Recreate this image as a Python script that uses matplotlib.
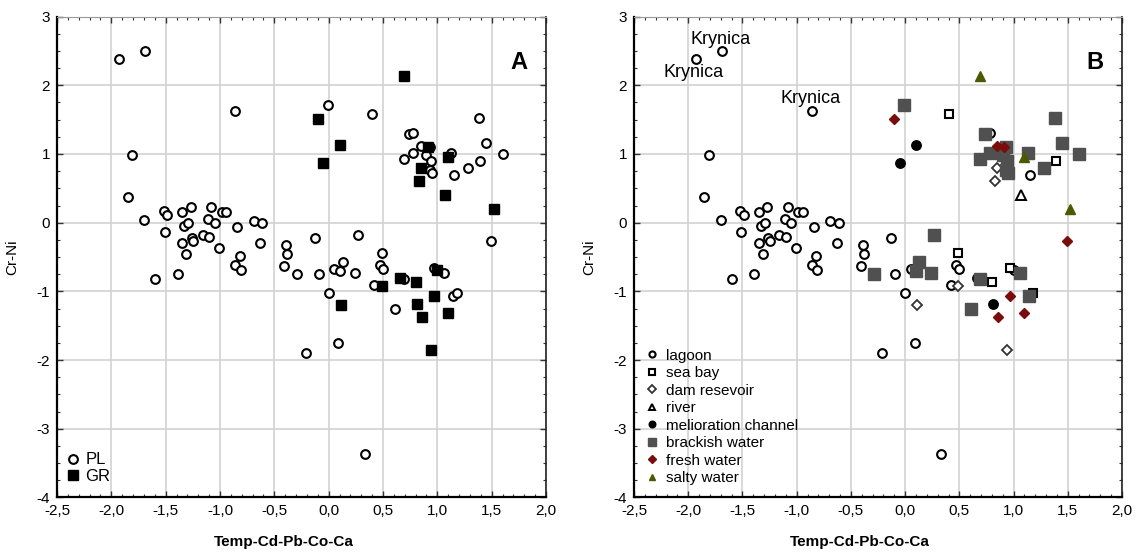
import matplotlib
matplotlib.use("Agg")
import matplotlib.pyplot as plt
from matplotlib.ticker import MultipleLocator, FuncFormatter
from matplotlib.lines import Line2D

plt.rcParams['font.family'] = ['Liberation Sans', 'DejaVu Sans']

# ---- data: each sample point, its origin (PL/GR) and water type ----
pt_x = [-1.93, -1.69, -0.86, -0.01, -1.81, -1.85, -1.70, -1.52, -1.49, -1.51,
        -1.35, -1.27, -1.33, -1.29, -1.35, -1.26, -1.25, -1.31, -1.08, -1.11,
        -1.05, -1.16, -1.10, -1.01, -0.985, -0.945, -0.84, -0.82, -0.86, -0.81,
        -0.69, -0.61, -0.63, -0.39, -0.38, -0.41, -0.13, -1.60, -1.39, -0.29,
        -0.09, 0.00, -0.21, 0.40, 0.74, 0.78, 0.85, 0.78, 0.90, 0.69,
        0.94, 0.93, 0.95, 1.13, 1.15, 1.28, 1.39, 1.38, 1.45, 1.60,
        0.27, 1.49, 0.49, 0.13, 0.47, 0.50, 0.05, 0.10, 0.24, 0.42,
        0.97, 1.06, 0.61, 1.14, 1.18, 0.09, 0.33, 0.93, 0.69,
        -0.10, -0.05, 0.10, 0.69, 0.91, 0.85, 0.83, 1.10, 1.07, 1.52,
        0.49, 0.66, 0.80, 1.00, 0.11, 0.97, 0.81, 0.86, 1.10, 0.94]
pt_y = [2.38, 2.50, 1.62, 1.71, 0.99, 0.38, 0.04, 0.17, 0.11, -0.13,
        0.16, 0.23, -0.05, -0.01, -0.29, -0.23, -0.27, -0.46, 0.23, 0.06,
        -0.01, -0.18, -0.21, -0.37, 0.16, 0.16, -0.06, -0.48, -0.61, -0.69,
        0.02, -0.01, -0.29, -0.32, -0.45, -0.63, -0.23, -0.82, -0.75, -0.75,
        -0.75, -1.03, -1.89, 1.58, 1.29, 1.31, 1.12, 1.02, 0.99, 0.93,
        0.90, 0.76, 0.72, 1.01, 0.70, 0.80, 0.90, 1.52, 1.16, 1.00,
        -0.18, -0.26, -0.44, -0.57, -0.62, -0.68, -0.68, -0.70, -0.73, -0.90,
        -0.66, -0.73, -1.25, -1.07, -1.03, -1.75, -3.37, 1.10, -0.82,
        1.51, 0.87, 1.13, 2.14, 1.10, 0.79, 0.60, 0.96, 0.41, 0.20,
        -0.92, -0.80, -0.86, -0.69, -1.20, -1.06, -1.19, -1.38, -1.31, -1.85]
pt_origin = ['PL'] * 79 + ['GR'] * 20
pt_water = (['lagoon'] * 3 + ['brackish water'] + ['lagoon'] * 35 + ['brackish water']
            + ['lagoon'] * 3
            + ['sea bay', 'brackish water', 'lagoon', 'fresh water', 'brackish water',
               'brackish water', 'brackish water', 'brackish water', 'brackish water',
               'brackish water', 'brackish water', 'lagoon', 'brackish water', 'sea bay',
               'brackish water', 'brackish water', 'brackish water']
            + ['brackish water', 'fresh water', 'sea bay', 'brackish water', 'lagoon',
               'lagoon', 'lagoon', 'brackish water', 'brackish water', 'lagoon',
               'sea bay', 'brackish water', 'brackish water', 'brackish water', 'sea bay',
               'lagoon', 'lagoon', 'brackish water', 'brackish water']
            + ['fresh water', 'melioration channel', 'melioration channel', 'salty water',
               'fresh water', 'dam resevoir', 'dam resevoir', 'salty water', 'river',
               'salty water', 'dam resevoir', 'melioration channel', 'sea bay', 'lagoon',
               'dam resevoir', 'fresh water', 'melioration channel', 'fresh water',
               'fresh water', 'dam resevoir'])

origins = ['PL', 'GR']
water_types = ['lagoon', 'sea bay', 'dam resevoir', 'river', 'melioration channel',
               'brackish water', 'fresh water', 'salty water']

krynica_x = [-1.69, -1.93, -0.86]
krynica_y = [2.50, 2.38, 1.62]
krynica_offset = [(-1, 8.5), (-1.5, -9.5), (-1, 9)]

x_ticks = [-2.5, -2.0, -1.5, -1.0, -0.5, 0.0, 0.5, 1.0, 1.5, 2.0]
y_ticks = [-4, -3, -2, -1, 0, 1, 2, 3]

# ---- styles ----
origin_style = {
    'PL': dict(marker='o', mfc='white', mec='black', ms=6.3, mew=1.5),
    'GR': dict(marker='s', mfc='black', mec='black', ms=7.0, mew=1.0),
}
water_style = {
    'lagoon': dict(marker='o', mfc='white', mec='black', ms=6.3, mew=1.5),
    'sea bay': dict(marker='s', mfc='white', mec='black', ms=6.3, mew=1.5),
    'dam resevoir': dict(marker='D', mfc='white', mec='#333333', ms=5.3, mew=1.3),
    'river': dict(marker='^', mfc='white', mec='black', ms=6.5, mew=1.4),
    'melioration channel': dict(marker='o', mfc='black', mec='black', ms=6.8, mew=1.0),
    'brackish water': dict(marker='s', mfc='#505050', mec='#505050', ms=8.0, mew=1.0),
    'fresh water': dict(marker='D', mfc='#7a0c0c', mec='#7a0c0c', ms=5.3, mew=1.0),
    'salty water': dict(marker='^', mfc='#4a5a00', mec='#4a5a00', ms=7.0, mew=1.0),
}

fig = plt.figure(figsize=(11.36, 5.53), dpi=100)
axA = fig.add_axes([0.0502, 0.1004, 0.4304, 0.8696])
axB = fig.add_axes([0.5581, 0.1004, 0.4296, 0.8696])


def style_axes(ax, letter):
    ax.set_xlim(-2.5, 2.0)
    ax.set_ylim(-4, 3)
    ax.set_xticks(x_ticks)
    ax.set_yticks(y_ticks)
    ax.xaxis.set_major_formatter(FuncFormatter(lambda v, p: f"{v:.1f}".replace('.', ',')))
    ax.yaxis.set_major_formatter(FuncFormatter(lambda v, p: f"{int(round(v))}"))
    ax.xaxis.set_minor_locator(MultipleLocator(0.1))
    ax.yaxis.set_minor_locator(MultipleLocator(0.25))
    ax.grid(True, which='major', color='#d2d2d2', lw=1.2, zorder=0)
    ax.set_axisbelow(True)
    ax.tick_params(which='both', direction='in', top=True, right=True,
                   labelsize=11, pad=5, colors='#333333', labelcolor='black')
    ax.tick_params(which='major', length=4, width=1.0)
    ax.tick_params(which='minor', length=2.5, width=0.8)
    for s in ['left', 'bottom']:
        ax.spines[s].set_linewidth(1.6)
        ax.spines[s].set_color('black')
    ax.spines['right'].set_linewidth(1.2)
    ax.spines['right'].set_color('#222222')
    ax.spines['top'].set_linewidth(0.8)
    ax.spines['top'].set_color('#999999')
    ax.set_xlabel('Temp-Cd-Pb-Co-Ca', fontsize=11, fontweight='bold')
    ax.xaxis.set_label_coords(0.463, -0.078)
    ax.set_ylabel('Cr-Ni', fontsize=11)
    ax.yaxis.set_label_coords(-0.078, 0.5)
    ax.text(0.945, 0.905, letter, transform=ax.transAxes, fontsize=17,
            fontweight='bold', ha='center', va='center')


# ---- panel A ----
style_axes(axA, 'A')
for org in origins:
    xs = [x for x, o in zip(pt_x, pt_origin) if o == org]
    ys = [y for y, o in zip(pt_y, pt_origin) if o == org]
    axA.plot(xs, ys, ls='none', zorder=3, label=org, **origin_style[org])
axA.legend(loc='lower left', bbox_to_anchor=(-0.009, 0.0), frameon=False,
           fontsize=12, handlelength=0.8, handletextpad=0.35,
           labelspacing=0.1, borderpad=0.35, borderaxespad=0.45)

# ---- panel B ----
style_axes(axB, 'B')
for wt in water_types:
    xs = [x for x, w in zip(pt_x, pt_water) if w == wt]
    ys = [y for y, w in zip(pt_y, pt_water) if w == wt]
    axB.plot(xs, ys, ls='none', zorder=3, **water_style[wt])
handles = []
for wt in water_types:
    st = dict(water_style[wt])
    st['ms'] = st['ms'] * 0.7
    handles.append(Line2D([], [], ls='none', label=wt, **st))
axB.legend(handles=handles, loc='lower left', bbox_to_anchor=(0.0, 0.0),
           frameon=False, fontsize=11, handlelength=0.8, handletextpad=0.5,
           labelspacing=0.23, borderpad=0.35, borderaxespad=0.45)
for kx, ky, off in zip(krynica_x, krynica_y, krynica_offset):
    axB.annotate('Krynica', (kx, ky), xytext=off, textcoords='offset points',
                 ha='center', va='center', fontsize=13)

fig.savefig('out.png', dpi=100)
